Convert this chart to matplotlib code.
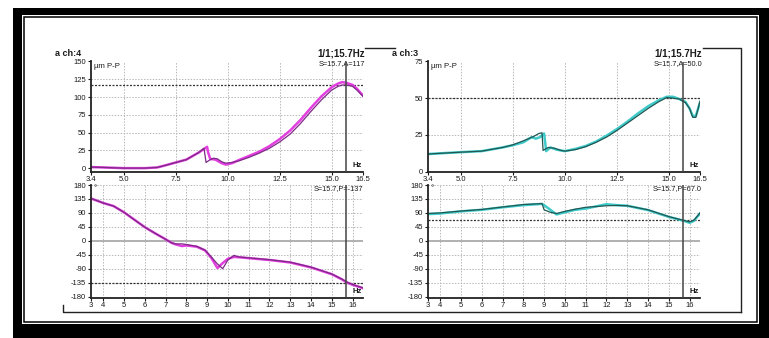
import matplotlib
matplotlib.use("Agg")
import matplotlib.pyplot as plt
from matplotlib.patches import Rectangle

plt.rcParams['font.family'] = ['Liberation Sans', 'DejaVu Sans']
plt.rcParams['axes.unicode_minus'] = False

# ---------------- data ----------------
# left (ch:4) amplitude, two runs
freq_l_amp_a = [3.4, 4.0, 5.0, 6.0, 6.6, 7.0, 7.5, 8.0, 8.3, 8.6, 8.85, 8.95, 9.1, 9.3, 9.5, 9.7, 9.9,
                10.2, 10.5, 11.0, 11.5, 12.0, 12.5, 13.0, 13.5, 14.0, 14.5, 15.0, 15.3, 15.5, 15.7,
                16.0, 16.2, 16.5]
amp_l_a = [1.5, 1, 0, 0, 1, 4, 8, 12, 17, 22, 28, 8, 11, 14, 13, 9, 7,
           8, 10, 15, 21, 28, 37, 48, 63, 80, 96, 110, 115, 117, 117,
           115, 110, 101]
freq_l_amp_b = [3.4, 4.0, 5.0, 6.0, 6.6, 7.0, 7.5, 8.0, 8.3, 8.6, 8.85, 9.0, 9.05, 9.15, 9.4, 9.7, 9.9,
                10.2, 10.5, 11.0, 11.5, 12.0, 12.5, 13.0, 13.5, 14.0, 14.5, 15.0, 15.3, 15.5, 15.7,
                16.0, 16.2, 16.5]
amp_l_b = [1.5, 1, 0, 0, 1, 4, 8, 12, 17, 22, 27, 30, 22, 13, 12, 7, 5,
           7, 11, 17, 23, 31, 41, 53, 68, 85, 101, 114, 119, 121, 120,
           117, 112, 102]

# left (ch:4) phase
freq_l_ph = [3.4, 4.0, 4.5, 5.0, 5.5, 6.0, 6.5, 7.0, 7.3, 7.5, 7.8, 8.0, 8.5, 8.9, 9.2, 9.5, 9.75,
             10.0, 10.3, 10.5, 11.0, 12.0, 13.0, 14.0, 15.0, 15.5, 15.7, 16.0, 16.5]
ph_l_a = [137, 122, 112, 92, 68, 44, 24, 5, -7, -10, -10, -12, -18, -30, -52, -75, -90,
          -62, -47, -52, -55, -61, -69, -85, -107, -124, -132, -141, -152]
ph_l_b = [137, 122, 112, 92, 68, 44, 24, 5, -7, -12, -17, -15, -19, -31, -55, -88, -72,
          -58, -52, -53, -56, -62, -70, -86, -108, -125, -134, -142, -153]

# right (ch:3) amplitude, two runs
freq_r_amp_a = [3.4, 4.0, 5.0, 6.0, 7.0, 7.5, 8.0, 8.5, 8.75, 8.9, 8.95, 9.2, 9.5, 9.8, 10.0, 10.5,
                11.0, 11.5, 12.0, 12.5, 13.0, 13.5, 14.0, 14.5, 14.9, 15.2, 15.5, 15.8, 16.0, 16.15,
                16.3, 16.5]
amp_r_a = [12, 12.5, 13.3, 14, 16.5, 18.3, 21, 24, 26, 26.5, 14.5, 16.5, 16, 14.5, 14, 15,
           17, 20, 23.5, 28, 33, 38, 43, 47.5, 50.5, 50, 49.5, 47, 43, 37,
           37, 48]
freq_r_amp_b = [3.4, 4.0, 5.0, 6.0, 7.0, 7.5, 8.0, 8.4, 8.6, 8.8, 9.0, 9.1, 9.3, 9.6, 10.0, 10.5,
                11.0, 11.5, 12.0, 12.5, 13.0, 13.5, 14.0, 14.5, 14.9, 15.2, 15.5, 15.8, 16.0, 16.15,
                16.3, 16.5]
amp_r_b = [12, 12.5, 13.3, 14, 16.5, 18, 20, 23.5, 22.5, 23.5, 26, 14, 16.5, 15, 14, 15.5,
           17.5, 20.5, 24.5, 29, 34, 39.5, 44.5, 48.5, 51, 51, 49.5, 47.5, 43, 38,
           38, 47]

# right (ch:3) phase
freq_r_ph = [3.4, 4.0, 5.0, 6.0, 7.0, 8.0, 8.9, 9.0, 9.3, 9.6, 10.0, 10.5, 11.0, 12.0, 12.5, 13.0,
             14.0, 15.0, 15.7, 16.0, 16.2, 16.5]
ph_r_a = [88, 90, 96, 101, 109, 117, 120, 100, 92, 88, 95, 102, 108, 113, 114, 113,
          100, 78, 66, 61, 66, 90]
ph_r_b = [86, 88, 95, 100, 108, 115, 119, 115, 100, 85, 92, 100, 104, 118, 115, 113,
          99, 77, 65, 58, 64, 88]

amp_ticks_l = [0, 25, 50, 75, 100, 125, 150]
amp_ticks_r = [0, 25, 50, 75]
phase_ticks = [-180, -135, -90, -45, 0, 45, 90, 135, 180]
top_xticks = [3.4, 5.0, 7.5, 10.0, 12.5, 15.0, 16.5]
top_xlabels = ["3.4", "5.0", "7.5", "10.0", "12.5", "15.0", "16.5"]
bot_xticks = [3.4, 4, 5, 6, 7, 8, 9, 10, 11, 12, 13, 14, 15, 16]
bot_xlabels = ["3", "4", "5", "6", "7", "8", "9", "10", "11", "12", "13", "14", "15", "16"]

cursor_f = 15.7
left_cursor_amp = 117
left_cursor_ph = -137
right_cursor_amp = 50.0
right_cursor_ph = 67.0

# ---------------- figure ----------------
W, H = 769, 338
fig = plt.figure(figsize=(W / 100, H / 100), dpi=100)

# background / frame axes in pixel coordinates
bg = fig.add_axes([0, 0, 1, 1], zorder=-5)
bg.set_xlim(0, W)
bg.set_ylim(H, 0)
bg.axis('off')
bg.add_patch(Rectangle((13, 8), W - 13, H - 8, facecolor='black', edgecolor='none'))
bg.add_patch(Rectangle((22, 14.7), 759 - 22, 323.5 - 14.7, facecolor='white', edgecolor='none'))
bg.add_patch(Rectangle((23.8, 16.8), 757.2 - 23.8, 321.8 - 16.8, facecolor='white',
                       edgecolor='black', lw=1.1))
fl = dict(color='#222222', lw=1.0)
bg.plot([365, 395], [48, 48], **fl)
bg.plot([703, 741, 741], [48, 48, 311.7], **fl)
bg.plot([63, 63, 741], [305, 311.7, 311.7], **fl)

def px_axes(x0, x1, ytop, ybot):
    return fig.add_axes([x0 / W, 1 - ybot / H, (x1 - x0) / W, (ybot - ytop) / H])

tick_kw = dict(labelsize=5.5, length=2.2, width=0.8, pad=1, colors='#1a1a1a')
grid_kw = dict(color='#b8b8b8', lw=0.7, ls=(0, (1.5, 1.5)), zorder=0)

def style(ax):
    for s in ['top', 'right']:
        ax.spines[s].set_visible(False)
    for s in ['left', 'bottom']:
        ax.spines[s].set_linewidth(1.3)
        ax.spines[s].set_color('#222222')
    ax.tick_params(**tick_kw)
    ax.set_facecolor('none')

def amp_panel(ax, ylim, yticks, cursor_val):
    style(ax)
    ax.set_xlim(3.4, 16.5)
    ax.set_ylim(*ylim)
    ax.set_yticks(yticks)
    ax.set_xticks(top_xticks)
    ax.set_xticklabels(top_xlabels)
    for t in top_xticks[1:-1]:
        ax.axvline(t, **grid_kw)
    for t in yticks[1:]:
        ax.axhline(t, **grid_kw)
    ax.axhline(cursor_val, color='#333333', lw=0.9, ls=(0, (1.6, 1.2)), zorder=1)
    ax.axvline(cursor_f, color='#444444', lw=1.1, zorder=3)
    ax.text(0.012, 0.985, "µm P-P", transform=ax.transAxes, fontsize=5.6,
            ha='left', va='top', color='#1a1a1a')
    ax.text(0.995, 0.02, "Hz", transform=ax.transAxes, fontsize=5.6, fontweight='bold',
            ha='right', va='bottom', color='#1a1a1a')

def phase_panel(ax, cursor_val):
    style(ax)
    ax.set_xlim(3.4, 16.5)
    ax.set_ylim(-183, 180)
    ax.set_yticks(phase_ticks)
    ax.set_xticks(bot_xticks)
    ax.set_xticklabels(bot_xlabels)
    for t in bot_xticks[1:]:
        ax.axvline(t, **grid_kw)
    for t in phase_ticks[1:]:
        if t == 0:
            ax.axhline(0, color='#b0b0b0', lw=1.4, zorder=0)
        else:
            ax.axhline(t, **grid_kw)
    ax.axhline(cursor_val, color='#333333', lw=0.9, ls=(0, (1.6, 1.2)), zorder=1)
    ax.axvline(cursor_f, color='#444444', lw=1.1, zorder=3)
    ax.text(0.012, 0.995, "°", transform=ax.transAxes, fontsize=5.6,
            ha='left', va='top', color='#1a1a1a')
    ax.text(0.995, 0.02, "Hz", transform=ax.transAxes, fontsize=5.6, fontweight='bold',
            ha='right', va='bottom', color='#1a1a1a')

mag_light, mag_dark = '#e23ee0', '#7d2a86'
teal_light, teal_dark = '#3fcaca', '#1f5753'

# left top
ax1 = px_axes(90.7, 363, 61.5, 171.7)
amp_panel(ax1, (-5, 150), amp_ticks_l, left_cursor_amp)
ax1.plot(freq_l_amp_b, amp_l_b, color=mag_light, lw=1.8, zorder=2)
ax1.plot(freq_l_amp_a, amp_l_a, color=mag_dark, lw=0.9, zorder=2)

# left bottom
ax2 = px_axes(90.7, 363, 185, 297.5)
phase_panel(ax2, left_cursor_ph)
ax2.plot(freq_l_ph, ph_l_b, color=mag_light, lw=1.8, zorder=2)
ax2.plot(freq_l_ph, ph_l_a, color=mag_dark, lw=0.9, zorder=2)

# right top
ax3 = px_axes(427.7, 700, 61.5, 171.7)
amp_panel(ax3, (0, 74.5), amp_ticks_r, right_cursor_amp)
ax3.plot(freq_r_amp_b, amp_r_b, color=teal_light, lw=1.8, zorder=2)
ax3.plot(freq_r_amp_a, amp_r_a, color=teal_dark, lw=0.9, zorder=2)

# right bottom
ax4 = px_axes(427.7, 700, 185, 297.5)
phase_panel(ax4, right_cursor_ph)
ax4.plot(freq_r_ph, ph_r_b, color=teal_light, lw=1.8, zorder=2)
ax4.plot(freq_r_ph, ph_r_a, color=teal_dark, lw=0.9, zorder=2)

# header texts (pixel coordinates)
def ptext(x, y, s, **kw):
    bg.text(x, y, s, va='center', color='#1a1a1a', **kw)

ptext(55, 53, "a ch:4", fontsize=6.5, fontweight='bold', ha='left')
ptext(365, 53, "1/1;15.7Hz", fontsize=7, fontweight='bold', ha='right')
ptext(365, 64, "S=15.7,A=117", fontsize=5.3, ha='right')
ptext(363, 189, "S=15.7,P=-137", fontsize=5.3, ha='right')

ptext(392, 53, "a ch:3", fontsize=6.5, fontweight='bold', ha='left')
ptext(702, 53, "1/1;15.7Hz", fontsize=7, fontweight='bold', ha='right')
ptext(702, 64, "S=15.7,A=50.0", fontsize=5.3, ha='right')
ptext(702, 189, "S=15.7,P=67.0", fontsize=5.3, ha='right')

fig.savefig("out.png", dpi=100)
